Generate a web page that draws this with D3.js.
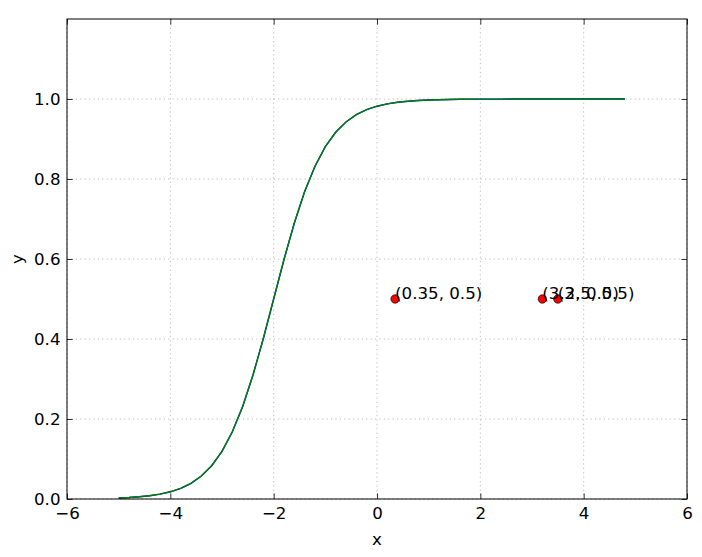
<!DOCTYPE html>
<html>
<head>
<meta charset="utf-8">
<script src="https://cdn.jsdelivr.net/npm/d3@7"></script>
<style>
  html, body { margin: 0; padding: 0; background: #fff; }
  svg { display: block; }
  text { font-family: "DejaVu Sans", sans-serif; fill: #000; }
</style>
</head>
<body>
<svg id="chart" width="702" height="557"></svg>
<script>
// ---- data ----
const curveX = [-5.0, -4.8, -4.6, -4.4, -4.2, -4.0, -3.8, -3.6, -3.4, -3.2,
                -3.0, -2.8, -2.6, -2.4, -2.2, -2.0, -1.8, -1.6, -1.4, -1.2,
                -1.0, -0.8, -0.6, -0.4, -0.2, 0.0, 0.2, 0.4, 0.6, 0.8,
                1.0, 1.2, 1.4, 1.6, 1.8, 2.0, 2.2, 2.4, 2.6, 2.8,
                3.0, 3.2, 3.4, 3.6, 3.8, 4.0, 4.2, 4.4, 4.6, 4.8];
const curveBlue = [0.0025, 0.0037, 0.0055, 0.0082, 0.0121, 0.0180, 0.0266, 0.0392, 0.0573, 0.0832,
                   0.1192, 0.1680, 0.2315, 0.3100, 0.4013, 0.5000, 0.5987, 0.6900, 0.7685, 0.8320,
                   0.8808, 0.9168, 0.9427, 0.9608, 0.9734, 0.9820, 0.9879, 0.9918, 0.9945, 0.9963,
                   0.9975, 0.9983, 0.9989, 0.9993, 0.9995, 0.9997, 0.9998, 0.9998, 0.9999, 0.9999,
                   0.99995, 0.99997, 0.99998, 0.99999, 0.99999, 0.99999, 1.0, 1.0, 1.0, 1.0];
const curveGreen = curveBlue.slice();
const pointsX = [0.35, 3.2, 3.5];
const pointsY = [0.5, 0.5, 0.5];
const pointLabels = ["(0.35, 0.5)", "(3.2, 0.5)", "(3.5, 0.5)"];
const xTicks = [-6, -4, -2, 0, 2, 4, 6];
const yTicks = [0.0, 0.2, 0.4, 0.6, 0.8, 1.0];
const xDomain = [-6, 6];
const yDomain = [0, 1.2];

// ---- layout ----
const svg = d3.select("#chart");
const L = 67, T = 19, W = 620, H = 480;
const fs = 16.67;
const x = d3.scaleLinear().domain(xDomain).range([L, L + W]);
const y = d3.scaleLinear().domain(yDomain).range([T + H, T]);

// grid
const grid = svg.append("g");
grid.selectAll("line.gx").data(xTicks).enter().append("line")
  .attr("x1", d => x(d)).attr("x2", d => x(d))
  .attr("y1", T).attr("y2", T + H)
  .attr("stroke", "#aaa").attr("stroke-width", 0.8).attr("stroke-dasharray", "1.2,3.2");
grid.selectAll("line.gy").data(yTicks).enter().append("line")
  .attr("x1", L).attr("x2", L + W)
  .attr("y1", d => y(d)).attr("y2", d => y(d))
  .attr("stroke", "#aaa").attr("stroke-width", 0.8).attr("stroke-dasharray", "1.2,3.2");

// curves
const line = d3.line().x((d, i) => x(curveX[i])).y(d => y(d));
svg.append("path").datum(curveBlue).attr("d", line)
  .attr("fill", "none").attr("stroke", "#0000ff").attr("stroke-width", 1.4);
svg.append("path").datum(curveGreen).attr("d", line)
  .attr("fill", "none").attr("stroke", "#008000").attr("stroke-width", 1.4);

// points
svg.selectAll("circle.pt").data(pointsX).enter().append("circle")
  .attr("cx", d => x(d)).attr("cy", (d, i) => y(pointsY[i])).attr("r", 4.2)
  .attr("fill", "#ff0000").attr("stroke", "#000").attr("stroke-width", 0.7);
svg.selectAll("text.pl").data(pointsX).enter().append("text")
  .attr("x", d => x(d)).attr("y", (d, i) => y(pointsY[i]))
  .attr("font-size", fs).text((d, i) => pointLabels[i]);

// axes (ticks inside, on all sides)
const tl = 5.6;
const xb = d3.axisBottom(x).tickValues(xTicks).tickSizeInner(-tl).tickSizeOuter(0).tickPadding(8.5)
  .tickFormat(d => d < 0 ? "\u2212" + Math.abs(d) : String(d));
const xt = d3.axisTop(x).tickValues(xTicks).tickSizeInner(-tl).tickSizeOuter(0).tickFormat("");
const yl = d3.axisLeft(y).tickValues(yTicks).tickSizeInner(-tl).tickSizeOuter(0).tickPadding(6.5)
  .tickFormat(d3.format(".1f"));
const yr = d3.axisRight(y).tickValues(yTicks).tickSizeInner(-tl).tickSizeOuter(0).tickFormat("");

function style(g) {
  g.select(".domain").remove();
  g.selectAll(".tick line").attr("stroke", "#000").attr("stroke-width", 0.8);
  g.selectAll(".tick text").attr("font-size", fs).attr("font-family", "DejaVu Sans").attr("fill", "#000");
}
svg.append("g").attr("transform", `translate(0,${T + H})`).call(xb).call(style);
svg.append("g").attr("transform", `translate(0,${T})`).call(xt).call(style);
svg.append("g").attr("transform", `translate(${L},0)`).call(yl).call(style);
svg.append("g").attr("transform", `translate(${L + W},0)`).call(yr).call(style);

// frame
svg.append("rect").attr("x", L).attr("y", T).attr("width", W).attr("height", H)
  .attr("fill", "none").attr("stroke", "#000").attr("stroke-width", 1);

// axis labels
svg.append("text").attr("x", L + W / 2).attr("y", 545).attr("text-anchor", "middle")
  .attr("font-size", fs).text("x");
svg.append("text").attr("transform", `translate(23,${T + H / 2}) rotate(-90)`)
  .attr("text-anchor", "middle").attr("font-size", fs).text("y");
</script>
</body>
</html>
